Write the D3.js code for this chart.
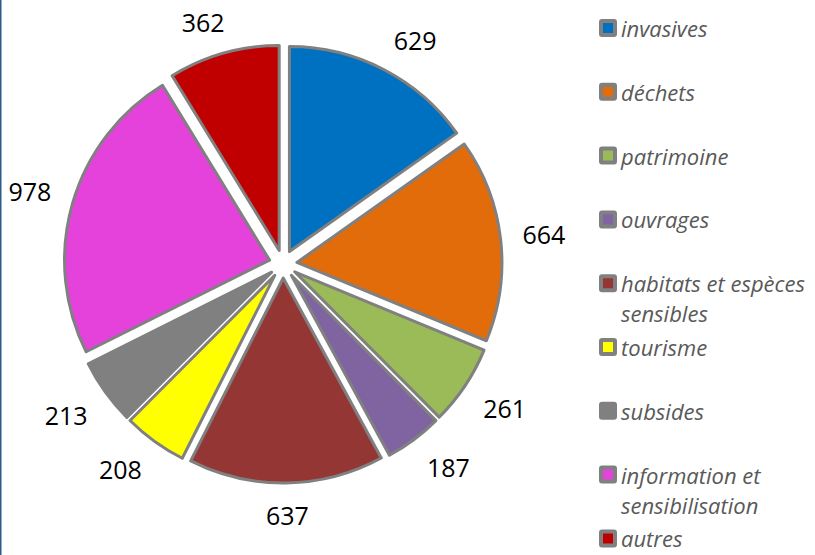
<!DOCTYPE html>
<html>
<head>
<meta charset="utf-8">
<script src="https://cdn.jsdelivr.net/npm/d3@7"></script>
<style>
  html, body { margin: 0; padding: 0; background: #ffffff; }
  svg { display: block; }
</style>
</head>
<body>
<div id="chart"></div>
<script>
const categories = ["invasives", "déchets", "patrimoine", "ouvrages", "habitats et espèces sensibles", "tourisme", "subsides", "information et sensibilisation", "autres"];
const values = [629, 664, 261, 187, 637, 208, 213, 978, 362];
const colors = ["#0070C0", "#E36C0A", "#9BBB59", "#8064A2", "#943634", "#FFFF00", "#808080", "#E542DC", "#C00000"];

const W = 815, H = 555;
const cx = 283, cy = 264, R = 205, explode = 14;

const svg = d3.select("#chart").append("svg")
  .attr("width", W).attr("height", H);

svg.append("rect").attr("x", 0).attr("y", 0).attr("width", W).attr("height", H).attr("fill", "#fff");
svg.append("line").attr("x1", 0.75).attr("x2", 0.75).attr("y1", 0).attr("y2", H)
  .attr("stroke", "#2E5A8C").attr("stroke-width", 1.5);

const data = categories.map((c, i) => ({ name: c, value: values[i], color: colors[i] }));
const pie = d3.pie().sort(null).value(d => d.value).startAngle(0).endAngle(2 * Math.PI);
const arcs = pie(data);
const arc = d3.arc().innerRadius(0).outerRadius(R);

const g = svg.append("g").attr("transform", `translate(${cx},${cy})`);

g.selectAll("path.slice").data(arcs).enter().append("path")
  .attr("class", "slice")
  .attr("d", arc)
  .attr("fill", d => d.data.color)
  .attr("stroke", "#808080")
  .attr("stroke-width", 3)
  .attr("stroke-linejoin", "round")
  .attr("transform", d => {
    const m = (d.startAngle + d.endAngle) / 2;
    return `translate(${explode * Math.sin(m)},${-explode * Math.cos(m)})`;
  });

// value labels: box placed outside an anchor point on a circle
const R0 = 241, k = 2.5, halfH = 10;
const clamp = v => Math.max(-1, Math.min(1, v));
const labels = g.selectAll("text.val").data(arcs).enter().append("text")
  .attr("class", "val")
  .attr("font-family", "'Open Sans', sans-serif")
  .attr("font-size", 25)
  .attr("fill", "#000")
  .attr("text-anchor", "middle")
  .attr("dominant-baseline", "central")
  .text(d => d.data.value);
labels.each(function(d) {
  const bb = this.getBBox();
  const m = (d.startAngle + d.endAngle) / 2;
  const s = Math.sin(m), c = Math.cos(m);
  const x = R0 * s + clamp(s * k) * bb.width / 2;
  const y = -R0 * c - clamp(c * k) * halfH;
  d3.select(this).attr("x", x).attr("y", y);
});

// legend
const legendX = 599, legendY0 = 28, legendStep = 63.8, lineH = 30, maxW = 200;
const leg = svg.append("g");
data.forEach((d, i) => {
  const y = legendY0 + i * legendStep;
  leg.append("rect")
    .attr("x", legendX + 2).attr("y", y - 7).attr("width", 14).attr("height", 14)
    .attr("fill", d.color).attr("stroke", "#808080").attr("stroke-width", 4)
    .attr("rx", 1);
  const t = leg.append("text")
    .attr("x", legendX + 22).attr("y", y)
    .attr("font-family", "'Open Sans', sans-serif")
    .attr("font-style", "italic")
    .attr("font-size", 22)
    .attr("fill", "#595959")
    .attr("dominant-baseline", "central");
  const words = d.name.split(" ");
  let line = [];
  let ts = t.append("tspan").attr("x", legendX + 22).attr("y", y);
  let lineNo = 0;
  words.forEach(w => {
    line.push(w);
    ts.text(line.join(" "));
    if (ts.node().getComputedTextLength() > maxW && line.length > 1) {
      line.pop();
      ts.text(line.join(" "));
      line = [w];
      lineNo++;
      ts = t.append("tspan").attr("x", legendX + 22).attr("y", y + lineNo * lineH).text(w);
    }
  });
});
</script>
</body>
</html>
